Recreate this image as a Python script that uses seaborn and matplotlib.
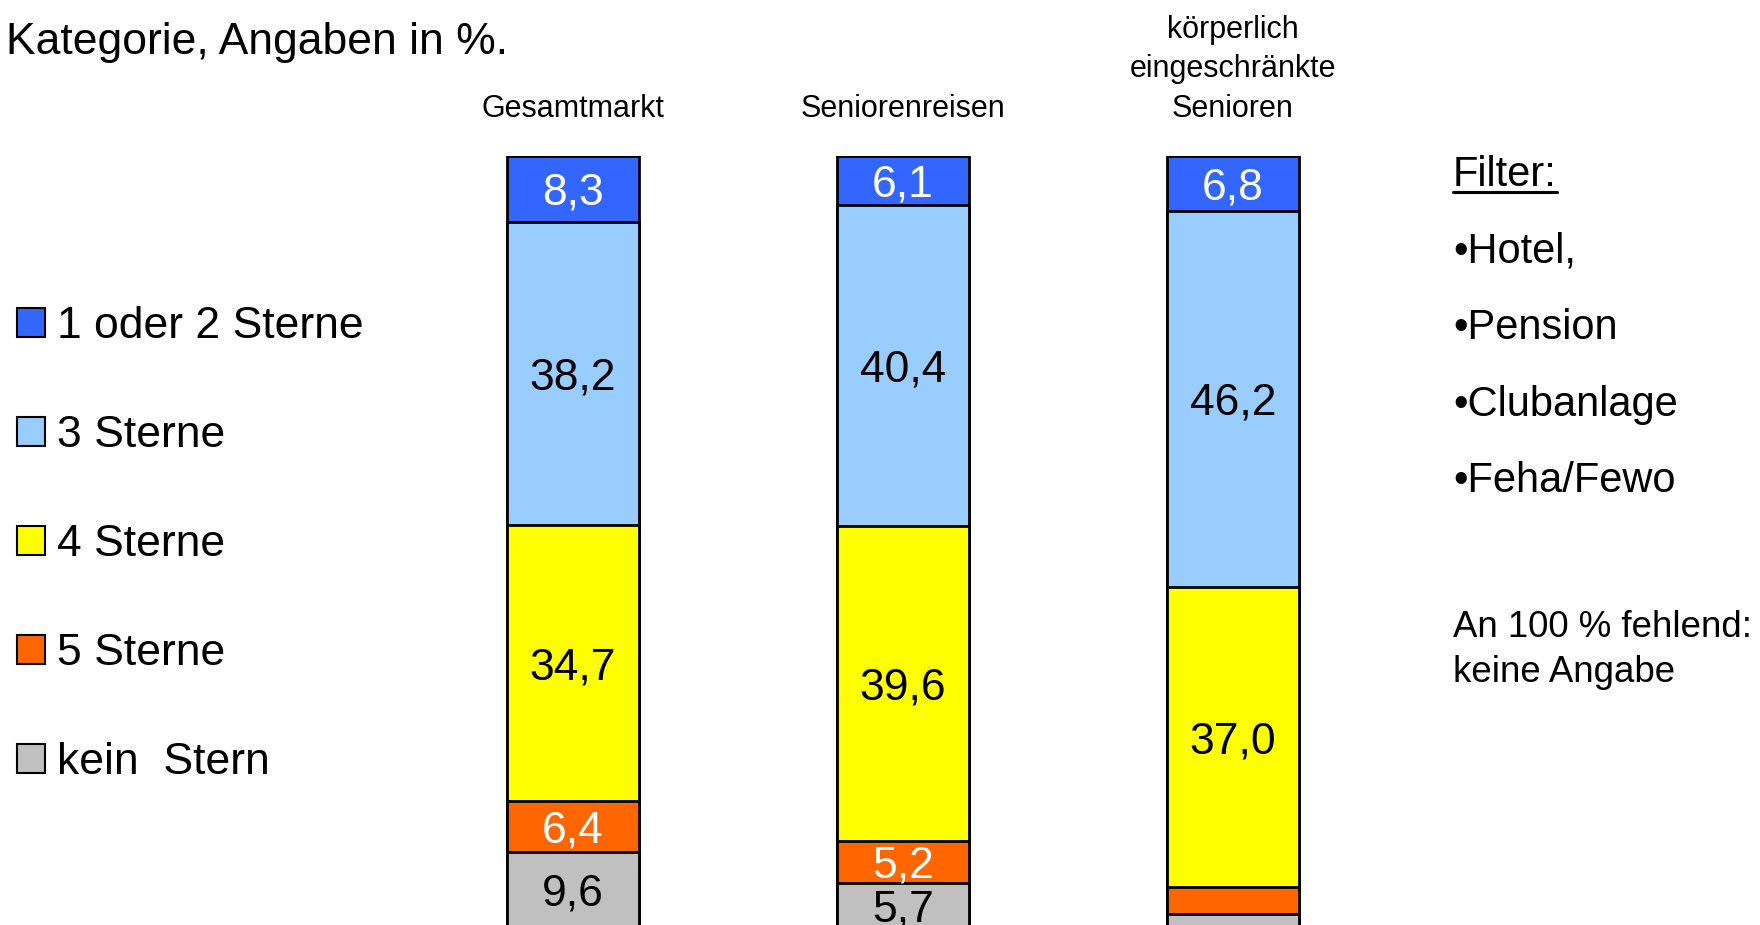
import matplotlib
matplotlib.use("Agg")
import matplotlib.pyplot as plt
from matplotlib.patches import Patch
from matplotlib.lines import Line2D
import numpy as np
import pandas as pd
import seaborn as sns

# ---- data -------------------------------------------------------------
title = "Kategorie, Angaben in %."
categories = ["Gesamtmarkt", "Seniorenreisen", "körperlich\neingeschränkte\nSenioren"]
segments = ["1 oder 2 Sterne", "3 Sterne", "4 Sterne", "5 Sterne", "kein  Stern"]

sterne_1_2 = [8.3, 6.1, 6.8]
sterne_3 = [38.2, 40.4, 46.2]
sterne_4 = [34.7, 39.6, 37.0]
sterne_5 = [6.4, 5.2, 3.3]
kein_stern = [9.6, 5.7, 1.7]

filter_items = ["Filter:", "•Hotel,", "•Pension", "•Clubanlage", "•Feha/Fewo"]
note_lines = ["An 100 % fehlend:", "keine Angabe"]

# ---- styling ----------------------------------------------------------
colors = ["#3366FF", "#99CCFF", "#FFFF00", "#FF6600", "#C0C0C0"]
label_colors = ["white", "black", "black", "white", "black"]

sns.set_style("white")
plt.rcParams["font.family"] = ["Liberation Sans", "DejaVu Sans"]
plt.rcParams["text.color"] = "black"
plt.rcParams["xtick.color"] = "black"

W, H = 1760, 925
fig = plt.figure(figsize=(W / 100, H / 100), dpi=100)

# 100 %-stacked columns: each column is scaled to its own total
values = np.array([sterne_1_2, sterne_3, sterne_4, sterne_5, kein_stern])
shares = values / values.sum(axis=0) * 100
tops = np.cumsum(shares[::-1], axis=0)[::-1]
bottoms = tops - shares

df = pd.DataFrame({
    "Kategorie": np.tile(categories, len(segments)),
    "Segment": np.repeat(segments, len(categories)),
    "Oben": tops.ravel(),
})

ax = fig.add_axes([408 / W, (H - 928) / H, 990 / W, 772 / H])
for seg, col in zip(segments, colors):
    sub = df[df["Segment"] == seg]
    sns.barplot(data=sub, x="Kategorie", y="Oben", order=categories,
                color=col, saturation=1, width=0.4, errorbar=None,
                edgecolor="black", linewidth=2.0, ax=ax)

for i in range(len(segments)):
    for j in range(len(categories)):
        v = values[i, j]
        if v < 4:
            continue
        ax.text(j, bottoms[i, j] + shares[i, j] / 2,
                f"{v:.1f}".replace(".", ","), ha="center",
                va="center_baseline", fontsize=32, color=label_colors[i])

ax.set_xlim(-0.5, len(categories) - 0.5)
ax.set_ylim(0, 100)
ax.set_xlabel("")
ax.set_ylabel("")
ax.set_yticks([])
ax.xaxis.tick_top()
ax.tick_params(axis="x", length=0, pad=23, labelsize=22, labelcolor="black")
for lab in ax.get_xticklabels():
    lab.set_linespacing(1.42)
for s in ax.spines.values():
    s.set_visible(False)

# ---- legend -----------------------------------------------------------
handles = [Patch(facecolor=c, edgecolor="black", linewidth=1.5) for c in colors]
fig.legend(handles, segments, loc="upper left",
           bbox_to_anchor=(17 / W, 1 - 306 / H), frameon=False, fontsize=32,
           handlelength=0.63, handleheight=0.63, handletextpad=0.27,
           labelspacing=1.53, borderpad=0, borderaxespad=0,
           labelcolor="black")

# ---- title and side notes --------------------------------------------
fig.text(6 / W, 1 - 54 / H, title, fontsize=32, va="baseline", ha="left")

fx = 1453 / W
filter_texts = []
for k, txt in enumerate(filter_items):
    b = 186 + k * 76.5
    filter_texts.append(fig.text(fx, 1 - b / H, txt, fontsize=30,
                                 va="baseline", ha="left"))
for k, txt in enumerate(note_lines):
    b = 637 + k * 45
    fig.text(fx, 1 - b / H, txt, fontsize=26.4, va="baseline", ha="left")

# underline the "Filter:" heading
fig.canvas.draw()
bb = filter_texts[0].get_window_extent().transformed(fig.transFigure.inverted())
fig.add_artist(Line2D([bb.x0, bb.x1], [1 - 192 / H] * 2, color="black",
                      linewidth=2.2, transform=fig.transFigure))

fig.savefig("out.png", dpi=100)
